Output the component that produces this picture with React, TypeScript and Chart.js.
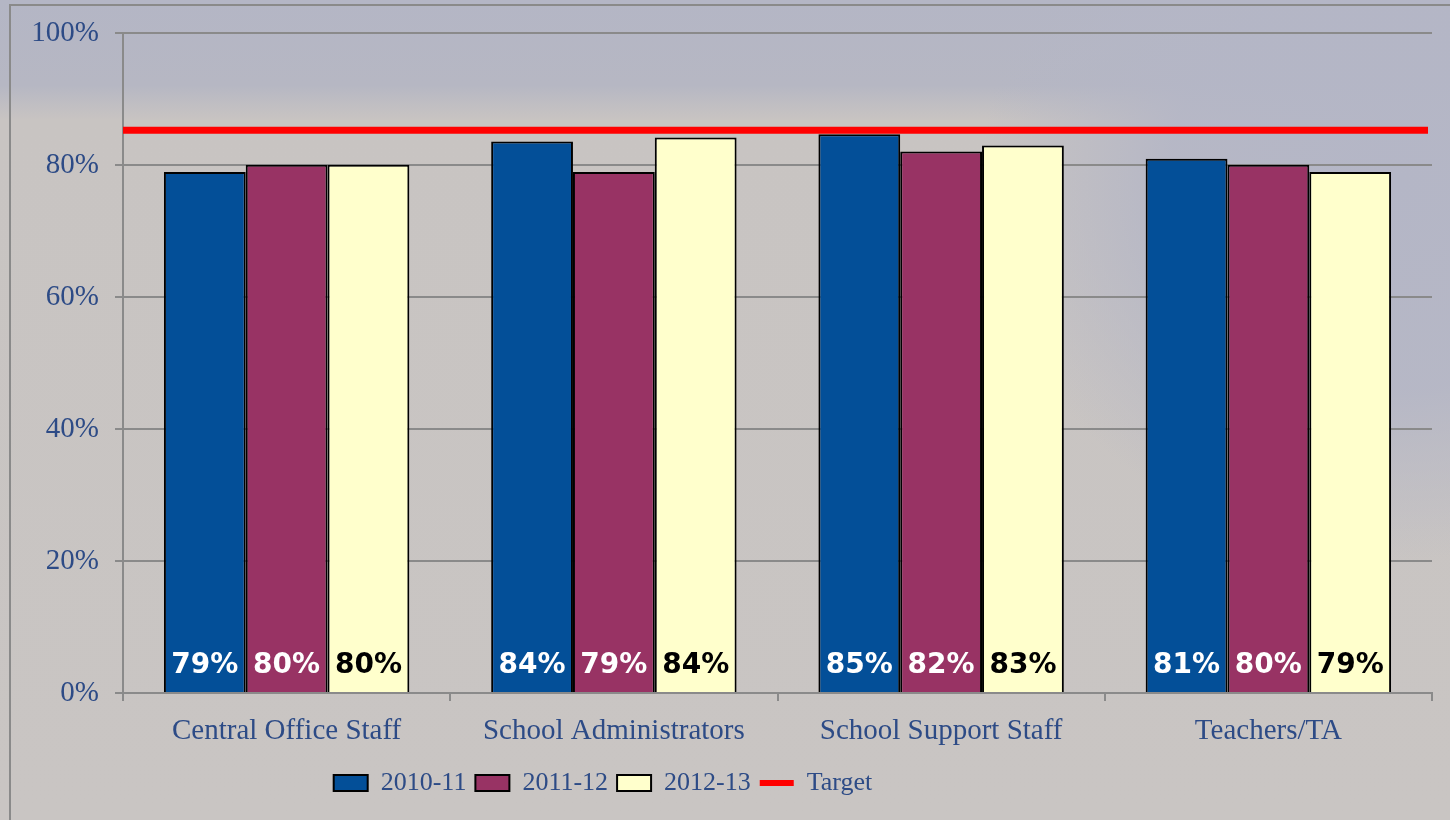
import React, { useEffect, useRef } from "react";
import { Chart, registerables } from "chart.js";

Chart.register(...registerables);

const categories = ["Central Office Staff", "School Administrators", "School Support Staff", "Teachers/TA"];
const series2010 = [79.0, 83.6, 84.7, 81.0];
const series2011 = [80.1, 79.0, 82.1, 80.1];
const series2012 = [80.1, 84.2, 83.0, 79.0];
const targetValues = [85.3, 85.3, 85.3, 85.3];
const seriesNames = ["2010-11", "2011-12", "2012-13", "Target"];
const yTicks = [0, 20, 40, 60, 80, 100];

const BLUE = "#034F98";
const MAROON = "#983364";
const CREAM = "#FFFFCC";
const TEXT = "#2D4B86";
const GRID = "#8A8A8A";
const RED = "#FF0000";

const valueLabels = {
  id: "valueLabels",
  afterDatasetsDraw(chart: any) {
    const ctx = chart.ctx;
    const yScale = chart.scales.y;
    const base = yScale.getPixelForValue(0);
    const area = chart.chartArea;
    ctx.save();
    // target line across the whole plot, positioned through the y scale
    chart.data.datasets.forEach((ds: any) => {
      if (ds.type !== "line") return;
      const y = yScale.getPixelForValue(ds.data[0]);
      ctx.strokeStyle = RED;
      ctx.lineWidth = 7;
      ctx.beginPath();
      ctx.moveTo(area.left, y);
      ctx.lineTo(area.right - 4, y);
      ctx.stroke();
    });
    ctx.font = "bold 28px 'DejaVu Sans'";
    ctx.textAlign = "center";
    ctx.textBaseline = "middle";
    chart.data.datasets.forEach((ds: any, i: number) => {
      if (ds.type === "line") return;
      const meta = chart.getDatasetMeta(i);
      meta.data.forEach((el: any, j: number) => {
        ctx.fillStyle = ds.labelColor;
        ctx.fillText(Math.round(ds.data[j]) + "%", el.x, base - 27);
      });
    });
    ctx.restore();
  },
  afterLayout(chart: any) {
    const lg = chart.legend;
    if (lg) {
      lg.left -= 118;
      lg.right -= 118;
    }
  },
};

export default function App() {
  const ref = useRef<HTMLCanvasElement>(null);
  useEffect(() => {
    if (!ref.current) return;
    const chart = new Chart(ref.current, {
      type: "bar",
      data: {
        labels: categories,
        datasets: [
          { label: seriesNames[0], data: series2010, backgroundColor: BLUE, borderColor: "#000", borderWidth: 2, labelColor: "#fff" } as any,
          { label: seriesNames[1], data: series2011, backgroundColor: MAROON, borderColor: "#000", borderWidth: 2, labelColor: "#fff" } as any,
          { label: seriesNames[2], data: series2012, backgroundColor: CREAM, borderColor: "#000", borderWidth: 2, labelColor: "#000" } as any,
          {
            type: "line",
            label: seriesNames[3],
            data: targetValues,
            borderColor: RED,
            backgroundColor: RED,
            borderWidth: 7,
            showLine: false,
            pointRadius: 0,
          } as any,
        ],
      },
      options: {
        animation: false,
        responsive: false,
        maintainAspectRatio: false,
        layout: { padding: { left: 10, top: 33, right: 18, bottom: 14 } },
        datasets: { bar: { categoryPercentage: 0.75, barPercentage: 1.0 } } as any,
        plugins: {
          tooltip: { enabled: false },
          legend: {
            position: "bottom",
            labels: {
              usePointStyle: true,
              pointStyleWidth: 34,
              boxHeight: 16,
              padding: 9,
              color: TEXT,
              font: { family: "'Liberation Serif'", size: 26 },
              generateLabels: (chart: any) => {
                const items = Chart.defaults.plugins.legend.labels.generateLabels(chart);
                return items
                  .sort((a: any, b: any) => a.datasetIndex - b.datasetIndex)
                  .map((it: any) => {
                    const ds = chart.data.datasets[it.datasetIndex];
                    if (ds.type === "line") {
                      return { ...it, pointStyle: "line", strokeStyle: RED, lineWidth: 6, fillStyle: RED, fontColor: TEXT };
                    }
                    return { ...it, pointStyle: "rect", strokeStyle: "#000", lineWidth: 2, fillStyle: ds.backgroundColor, fontColor: TEXT };
                  });
              },
            },
          },
        },
        scales: {
          x: {
            type: "category",
            grid: { drawOnChartArea: false, drawTicks: true, tickLength: 8, color: GRID, lineWidth: 2, offset: true },
            border: { color: GRID, width: 2 },
            ticks: { color: TEXT, font: { family: "'Liberation Serif'", size: 29 }, padding: 13 },
            afterFit: (s: any) => { s.height = 68; },
          },
          y: {
            min: 0,
            max: 100,
            afterBuildTicks: (s: any) => { s.ticks = yTicks.map((v) => ({ value: v })); },
            grid: { color: GRID, lineWidth: 2, tickLength: 8 },
            border: { color: GRID, width: 2 },
            ticks: { color: TEXT, font: { family: "'Liberation Serif'", size: 29 }, padding: 16, callback: (v: any) => v + "%" },
            afterFit: (s: any) => { s.width = 113; },
          },
        },
      },
      plugins: [valueLabels],
    });
    return () => chart.destroy();
  }, []);

  return (
    <div
      style={{
        position: "fixed",
        left: 0,
        top: 0,
        width: 1450,
        height: 820,
        overflow: "hidden",
        background:
          "radial-gradient(ellipse 420px 380px at 1400px 180px, rgba(180,182,198,1) 0%, rgba(180,182,198,0.9) 55%, rgba(180,182,198,0) 100%), linear-gradient(to bottom, #b4b6c5 0px, #b6b7c3 85px, #c8c4c2 120px, #c9c5c3 820px)",
      }}
    >
      <div
        style={{
          position: "absolute",
          left: 9,
          top: 4,
          width: 1500,
          height: 900,
          border: "2px solid #8a8a8a",
        }}
      />
      <canvas ref={ref} width={1450} height={820} style={{ position: "absolute", left: 0, top: 0 }} />
    </div>
  );
}
